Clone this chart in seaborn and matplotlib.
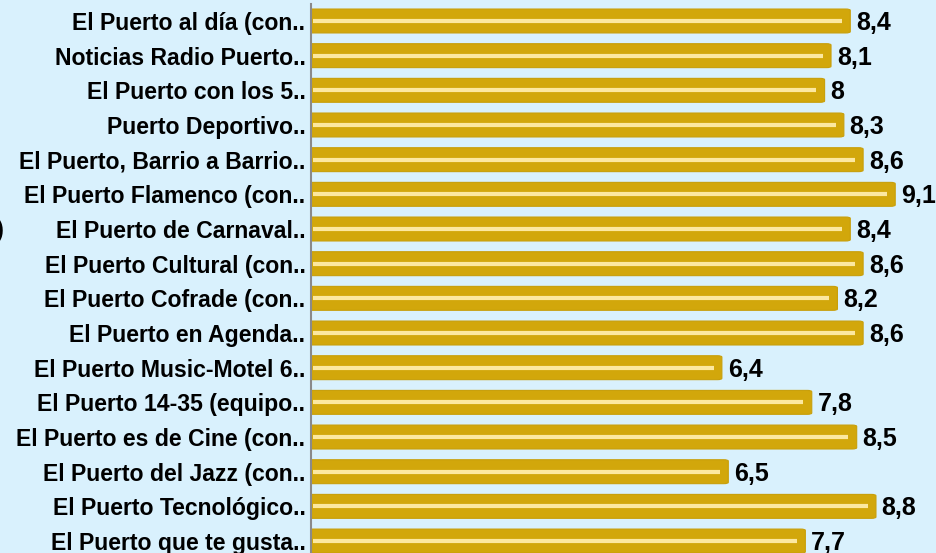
import matplotlib
matplotlib.use("Agg")
import matplotlib.pyplot as plt
import seaborn as sns
import pandas as pd
from matplotlib.patches import FancyBboxPatch

categories = [
    "El Puerto al día (con..", "Noticias Radio Puerto..", "El Puerto con los 5..",
    "Puerto Deportivo..", "El Puerto, Barrio a Barrio..", "El Puerto Flamenco (con..",
    "El Puerto de Carnaval..", "El Puerto Cultural (con..", "El Puerto Cofrade (con..",
    "El Puerto en Agenda..", "El Puerto Music-Motel 6..", "El Puerto 14-35 (equipo..",
    "El Puerto es de Cine (con..", "El Puerto del Jazz (con..", "El Puerto Tecnológico..",
    "El Puerto que te gusta..",
]
values = [8.4, 8.1, 8.0, 8.3, 8.6, 9.1, 8.4, 8.6, 8.2, 8.6, 6.4, 7.8, 8.5, 6.5, 8.8, 7.7]
value_labels = ["8,4", "8,1", "8", "8,3", "8,6", "9,1", "8,4", "8,6", "8,2", "8,6",
                "6,4", "7,8", "8,5", "6,5", "8,8", "7,7"]

BG = "#d9f1fd"
GOLD = "#d2a70b"
CREAM = "#fce8a0"

sns.set_theme(style="white")
plt.rcParams["font.family"] = ["Liberation Sans", "DejaVu Sans"]

df = pd.DataFrame({"cat": categories, "val": values})

fig = plt.figure(figsize=(9.37, 5.53), dpi=100, facecolor=BG)
ax = fig.add_axes([311 / 937, 0.0, 1 - 311 / 937, 1 - 4 / 553])
ax.set_facecolor(BG)

sns.barplot(data=df, y="cat", x="val", orient="h", color=GOLD, width=0.69,
            saturation=1, ax=ax)

# replace bars with rounded boxes
patches = list(ax.patches)
for p in patches:
    x0, y0 = p.get_x(), p.get_y()
    w, h = p.get_width(), p.get_height()
    p.remove()
    fb = FancyBboxPatch((x0 - 0.2, y0), w + 0.2, h,
                        boxstyle="round,pad=0,rounding_size=0.07",
                        mutation_aspect=0.55,
                        facecolor=GOLD, edgecolor="#c89f0a", linewidth=0.8,
                        clip_on=True, zorder=2)
    ax.add_patch(fb)

for i, v in enumerate(values):
    ax.plot([0.03, v - 0.13], [i, i], color=CREAM, lw=3, solid_capstyle="butt", zorder=3)
    ax.text(v + 0.09, i + 0.06, value_labels[i], ha="left", va="center",
            fontsize=18, fontweight="bold", color="black", zorder=4)

ax.set_xlim(0, (937 - 311) / 64.2)
ax.set_ylim(15.345, -0.49)
ax.set_xlabel("")
ax.set_ylabel("")
ax.set_xticks([])
ax.tick_params(axis="y", length=0, pad=4)
for lab in ax.get_yticklabels():
    lab.set_fontweight("bold")
    lab.set_fontsize(16.6)
    lab.set_color("black")
for s in ["top", "right", "bottom"]:
    ax.spines[s].set_visible(False)
ax.spines["left"].set_color("#8a8a8a")
ax.spines["left"].set_linewidth(1.5)

fig.text(4 / 937, 1 - 230 / 553, ")", ha="right", va="center", fontsize=17,
         fontweight="bold", color="black")

fig.savefig("out.png", dpi=100, facecolor=BG)
